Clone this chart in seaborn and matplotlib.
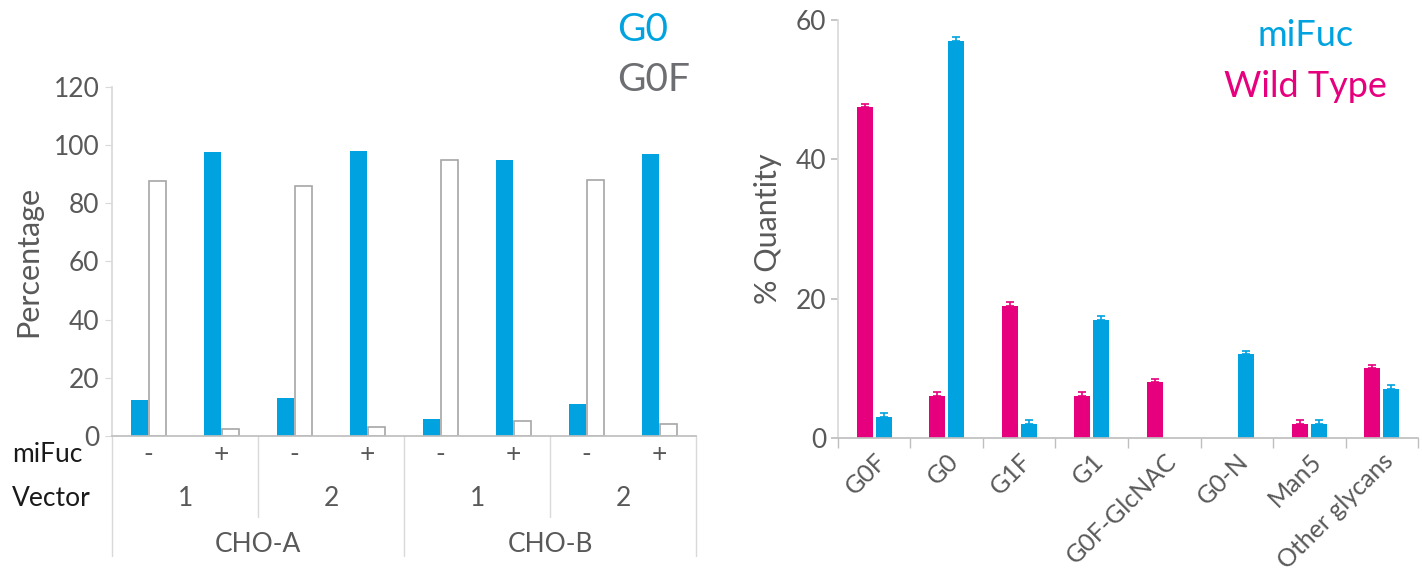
import numpy as np
import pandas as pd
import matplotlib.pyplot as plt
import matplotlib.transforms as mtransforms
import seaborn as sns

# left panel: G0 / G0F percentage per condition
cell_lines = ["CHO-A", "CHO-B"]
vectors = ["1", "2"]
mifuc_flags = ["-", "+"]
g0_pct = [12.5, 97.5, 13, 98, 6, 95, 11, 97]
g0f_pct = [87.5, 2.5, 86, 3, 95, 5, 88, 4]

# right panel: glycan quantities
glycans = ["G0F", "G0", "G1F", "G1", "G0F-GlcNAC", "G0-N", "Man5", "Other glycans"]
wild_type = [47.5, 6, 19, 6, 8, 0, 2, 10]
wild_type_err = [0.5, 0.6, 0.5, 0.6, 0.5, 0, 0.6, 0.5]
mifuc = [3, 57, 2, 17, 0, 12, 2, 7]
mifuc_err = [0.6, 0.5, 0.6, 0.5, 0, 0.5, 0.6, 0.6]

BLUE = "#00A3E0"
PINK = "#E6007E"
TXT = "#595959"
AXC = "#BFBFBF"

sns.set_theme(style="white")
plt.rcParams["font.family"] = ["Lato", "DejaVu Sans"]

fig = plt.figure(figsize=(14.22, 5.76), dpi=100)
ax1 = fig.add_axes([0.0788, 0.2431, 0.4107, 0.606])
ax2 = fig.add_axes([0.5893, 0.2396, 0.4079, 0.7257])

# ---- left panel ----
conds = []
for cl in cell_lines:
    for v in vectors:
        for m in mifuc_flags:
            conds.append(f"{cl}|{v}|{m}")

left_df = pd.DataFrame({
    "cond": conds * 2,
    "glycan": ["G0"] * len(conds) + ["G0F"] * len(conds),
    "pct": g0_pct + g0f_pct,
})
sns.barplot(data=left_df, x="cond", y="pct", hue="glycan", order=conds,
            hue_order=["G0", "G0F"], palette={"G0": BLUE, "G0F": "white"},
            saturation=1, width=0.5, gap=0.1, linewidth=0, legend=False, ax=ax1)
for bar in ax1.containers[1]:
    bar.set_edgecolor("#A6A6A6")
    bar.set_linewidth(1.2)

ax1.set_ylim(0, 120)
ax1.set_xlim(-0.5, len(conds) - 0.5)
ax1.set_yticks(np.arange(0, 121, 20))
ax1.tick_params(axis="y", labelsize=19, colors=TXT, length=5, width=0.8,
                color="#D9D9D9", left=True, pad=4)
ax1.set_xticks([])
ax1.set_xlabel("")
ax1.set_ylabel("Percentage", fontsize=22, color=TXT, labelpad=8)
for s in ["top", "right"]:
    ax1.spines[s].set_visible(False)
ax1.spines["left"].set_color("#D9D9D9")
ax1.spines["bottom"].set_color(AXC)

trans = mtransforms.blended_transform_factory(ax1.transData, ax1.transAxes)
y_m, y_v, y_c = -0.054, -0.18, -0.31
for i, c in enumerate(conds):
    ax1.text(i, y_m, c.split("|")[2], transform=trans, ha="center", va="center",
             fontsize=19, color=TXT)
for j in range(len(cell_lines) * len(vectors)):
    ax1.text(2 * j + 0.5, y_v, vectors[j % len(vectors)], transform=trans,
             ha="center", va="center", fontsize=19, color=TXT)
for k, cl in enumerate(cell_lines):
    ax1.text(4 * k + 1.5, y_c, cl, transform=trans, ha="center", va="center",
             fontsize=19, color=TXT)
for xb in np.arange(-0.5, len(conds), 2):
    deep = (xb + 0.5) % 4 == 0
    ax1.plot([xb, xb], [0, -0.344 if deep else -0.232], transform=trans,
             color="#D9D9D9", lw=1, clip_on=False)
ax1.text(-0.171, y_m, "miFuc", transform=ax1.transAxes, ha="left", va="center",
         fontsize=19, color="#1a1a1a")
ax1.text(-0.171, y_v, "Vector", transform=ax1.transAxes, ha="left", va="center",
         fontsize=19, color="#1a1a1a")

fig.text(0.434, 0.948, "G0", color=BLUE, fontsize=28, ha="left", va="center")
fig.text(0.434, 0.861, "G0F", color="#6D6E71", fontsize=28, ha="left", va="center")

# ---- right panel ----
right_df = pd.DataFrame({
    "glycan": glycans * 2,
    "type": ["Wild Type"] * len(glycans) + ["miFuc"] * len(glycans),
    "qty": wild_type + mifuc,
})
sns.barplot(data=right_df, x="glycan", y="qty", hue="type", order=glycans,
            hue_order=["Wild Type", "miFuc"],
            palette={"Wild Type": PINK, "miFuc": BLUE}, saturation=1,
            width=0.52, gap=0.15, linewidth=0, legend=False, ax=ax2)

for cont, err, col in [(ax2.containers[0], wild_type_err, PINK),
                       (ax2.containers[1], mifuc_err, BLUE)]:
    xs, ys, es = [], [], []
    for bar, e in zip(cont, err):
        if bar.get_height() > 0:
            xs.append(bar.get_x() + bar.get_width() / 2)
            ys.append(bar.get_height())
            es.append(e)
    ax2.errorbar(xs, ys, yerr=[np.zeros(len(es)), es], fmt="none",
                 ecolor=col, elinewidth=1.2, capsize=3, capthick=1.2)

ax2.set_ylim(0, 60)
ax2.set_xlim(-0.5, len(glycans) - 0.5)
ax2.set_yticks([0, 20, 40, 60])
ax2.set_xticks(range(len(glycans)))
ax2.set_xticklabels(glycans, rotation=45, ha="right", rotation_mode="anchor")
shift = mtransforms.ScaledTranslation(-6 / 72, 0, fig.dpi_scale_trans)
for lab in ax2.get_xticklabels():
    lab.set_transform(lab.get_transform() + shift)
ax2.set_xticks(np.arange(-0.5, len(glycans)), minor=True)
ax2.tick_params(axis="x", which="major", length=0, labelsize=18, colors=TXT, pad=8)
ax2.tick_params(axis="x", which="minor", length=7, color=AXC, width=1, bottom=True)
ax2.tick_params(axis="y", labelsize=19, colors=TXT, length=5, color=AXC, left=True)
ax2.set_xlabel("")
ax2.set_ylabel("% Quantity", fontsize=22, color=TXT, labelpad=10)
for s in ["top", "right"]:
    ax2.spines[s].set_visible(False)
ax2.spines["left"].set_color("#D9D9D9")
ax2.spines["bottom"].set_color(AXC)

fig.text(0.918, 0.939, "miFuc", color=BLUE, fontsize=26, ha="center", va="center")
fig.text(0.918, 0.849, "Wild Type", color=PINK, fontsize=26, ha="center", va="center")

fig.savefig("out.png", dpi=100)
